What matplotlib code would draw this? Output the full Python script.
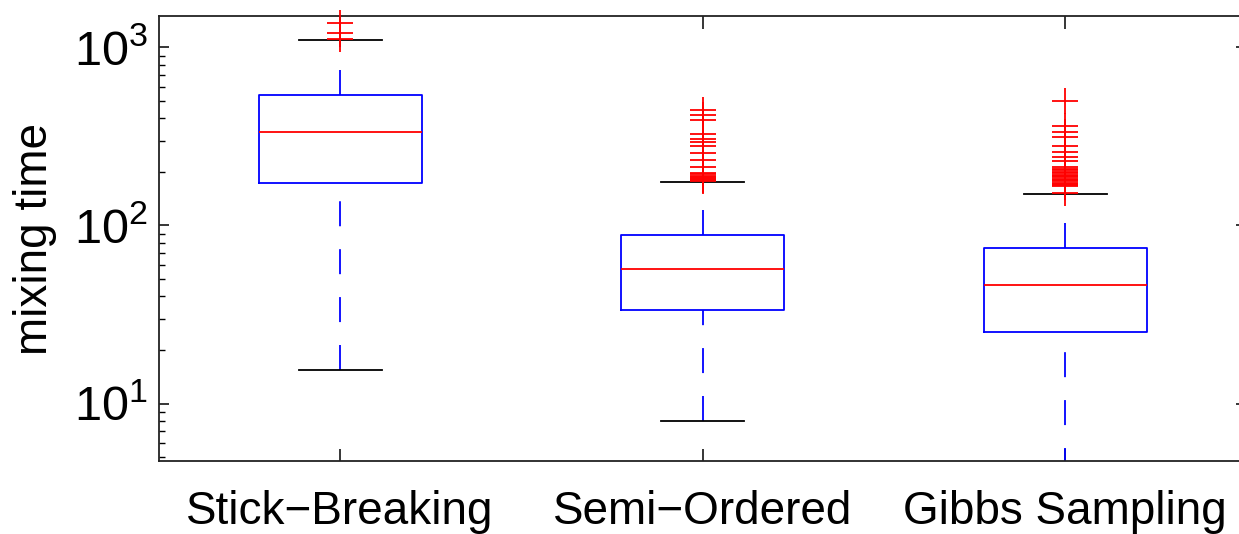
import matplotlib
matplotlib.use("Agg")
import matplotlib.pyplot as plt

plt.rcParams['font.family'] = ['Liberation Sans', 'DejaVu Sans']
plt.rcParams['mathtext.fontset'] = 'custom'
plt.rcParams['mathtext.rm'] = 'Liberation Sans'
plt.rcParams['mathtext.it'] = 'Liberation Sans'
plt.rcParams['lines.scale_dashes'] = False

# ---- data ----
categories = ["Stick\u2212Breaking", "Semi\u2212Ordered", "Gibbs Sampling"]
medians = [334, 57, 46.6]
q1s = [174, 33.6, 25.2]
q3s = [541, 88.6, 74.6]
whis_lo = [15.4, 8.0, 4.1]
whis_hi = [1102, 174.5, 149.3]
outliers_sb = [1116, 1206, 1373]
outliers_so = [178, 180, 182, 184, 187, 190, 194, 197, 213, 232, 255, 278,
               296, 305, 326, 389, 415, 443]
outliers_gs = [152, 166, 168, 171, 174, 177, 180, 183, 186, 189, 192, 196,
               200, 204, 208, 214, 229, 242, 258, 278, 314, 335, 360, 497]
outliers = [outliers_sb, outliers_so, outliers_gs]
y_limits = (4.76, 1500)

stats = []
for i, name in enumerate(categories):
    stats.append(dict(label=name, med=medians[i], q1=q1s[i], q3=q3s[i],
                      whislo=whis_lo[i], whishi=whis_hi[i],
                      fliers=outliers[i]))

fig = plt.figure(figsize=(12.39, 5.34), dpi=100)
ax = fig.add_axes([0.1283, 0.1367, 0.8777, 0.8333])

lw = 1.3
dash = (0, (18, 16.5))
res = ax.bxp(stats, positions=[1, 2, 3], widths=0.45, capwidths=0.23,
             boxprops=dict(color='#0000ff', linewidth=lw),
             medianprops=dict(color='#ff0000', linewidth=lw),
             whiskerprops=dict(color='#0000ff', linewidth=lw, linestyle=dash),
             capprops=dict(color='#000000', linewidth=lw),
             flierprops=dict(marker='+', markeredgecolor='#ff0000',
                             markersize=18.5, markeredgewidth=1.3,
                             linestyle='none'),
             showfliers=True)

# lower whiskers are drawn from the cap toward the box
for k, line in enumerate(res['whiskers']):
    if k % 2 == 0:
        line.set_ydata(list(line.get_ydata())[::-1])
for fl in res['fliers']:
    fl.set_clip_on(False)
    fl.set_zorder(5)

ax.set_yscale('log')
ax.set_ylim(*y_limits)
ax.set_xlim(0.5, 3.5)
ax.set_xticks([1, 2, 3])
ax.set_xticklabels(categories)
ax.set_ylabel('mixing time', fontsize=33, labelpad=12)

ax.tick_params(axis='x', which='major', direction='in', length=9, width=1.1,
               top=True, bottom=True, labelsize=33, pad=21)
ax.tick_params(axis='y', which='major', direction='in', length=7, width=1.1,
               left=True, right=True, labelsize=35, pad=8)
ax.tick_params(axis='y', which='minor', direction='in', length=4, width=1.0,
               left=True, right=True)
for s in ax.spines.values():
    s.set_linewidth(1.3)
    s.set_color('#222222')

fig.savefig('out.png', dpi=100)
